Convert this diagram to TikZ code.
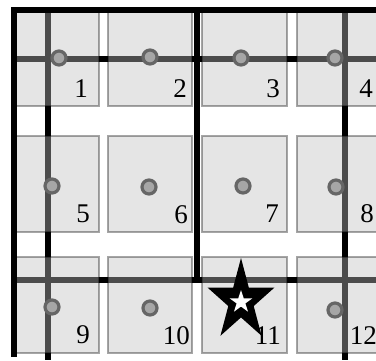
\documentclass[tikz,border=0pt]{standalone}
\usepackage{fontspec}
\setmainfont{Liberation Serif}
\begin{document}
\begin{tikzpicture}[x=1pt,y=-1pt,
  tile/.style={fill=black!25, fill opacity=0.4, draw=black, draw opacity=0.35, line width=1.2pt},
  bar/.style={line width=6.5pt, black},
  frame/.style={line width=5.5pt, black},
  dot/.style={circle, draw=black!60, line width=3.2pt, fill=black!35, minimum size=14pt, inner sep=0pt},
  lbl/.style={anchor=base east, inner sep=0pt, font=\fontsize{27}{27}\selectfont}]
\useasboundingbox (0,0) rectangle (376,360);
\fill[white] (0,0) rectangle (376,360);
% inner bars (under the tiles)
\coordinate (v1t) at (48,10);  \coordinate (v1b) at (48,360);
\coordinate (v2t) at (197,10); \coordinate (v2b) at (197,280);
\coordinate (v3t) at (345,10); \coordinate (v3b) at (345,360);
\coordinate (h1l) at (14,59);  \coordinate (h1r) at (376,59);
\coordinate (h2l) at (14,280); \coordinate (h2r) at (376,280);
\draw[bar] (v1t) -- (v1b);
\draw[bar] (v2t) -- (v2b);
\draw[bar] (v3t) -- (v3b);
\draw[bar] (h1l) -- (h1r);
\draw[bar] (h2l) -- (h2r);
% tiles
\begin{scope}
\clip (14,10) rectangle (376,360);
\foreach \xa/\xb in {-10/99,108/192,202/287,297/390}
  \foreach \ya/\yb in {-10/106,136/232,257/353}
    \draw[tile] (\xa,\ya) rectangle (\xb,\yb);
\end{scope}
% frame
\coordinate (ftl) at (14,10); \coordinate (ftr) at (376,10); \coordinate (fbl) at (14,354);
\draw[frame, line cap=rect] (fbl) -- (ftl) -- (ftr);
% dots
\node[dot] (d1) at (59,58) {};
\node[dot] (d2) at (150,57) {};
\node[dot] (d3) at (241,58) {};
\node[dot] (d4) at (335,58) {};
\node[dot] (d5) at (52,186) {};
\node[dot] (d6) at (149,187) {};
\node[dot] (d7) at (243,186) {};
\node[dot] (d8) at (336,187) {};
\node[dot] (d9) at (52,307) {};
\node[dot] (d10) at (150,308) {};
\node[dot] (d12) at (335,310) {};
% labels
\node[lbl] (l1) at (88,97) {1};
\node[lbl] (l2) at (187,97) {2};
\node[lbl] (l3) at (280,97) {3};
\node[lbl] (l4) at (373,97) {4};
\node[lbl] (l5) at (90,222) {5};
\node[lbl] (l6) at (188,223) {6};
\node[lbl] (l7) at (279,222) {7};
\node[lbl] (l8) at (374,222) {8};
\node[lbl] (l9) at (90,343) {9};
\node[lbl] (l10) at (190,344) {10};
\node[lbl] (l11) at (281,344) {11};
\node[lbl] (l12) at (377,344) {12};
% star
\fill[black] (241,258) foreach \a/\r in {126/0.382,162/1,198/0.382,234/1,270/0.382,306/1,342/0.382,18/1,54/0.382} { -- ({241+35*\r*cos(\a)},{301-43*\r*sin(\a)}) } -- cycle;
\fill[white] (241,290) foreach \a/\r in {126/0.382,162/1,198/0.382,234/1,270/0.382,306/1,342/0.382,18/1,54/0.382} { -- ({241+12*\r*cos(\a)},{302-12*\r*sin(\a)}) } -- cycle;
\end{tikzpicture}
\end{document}
